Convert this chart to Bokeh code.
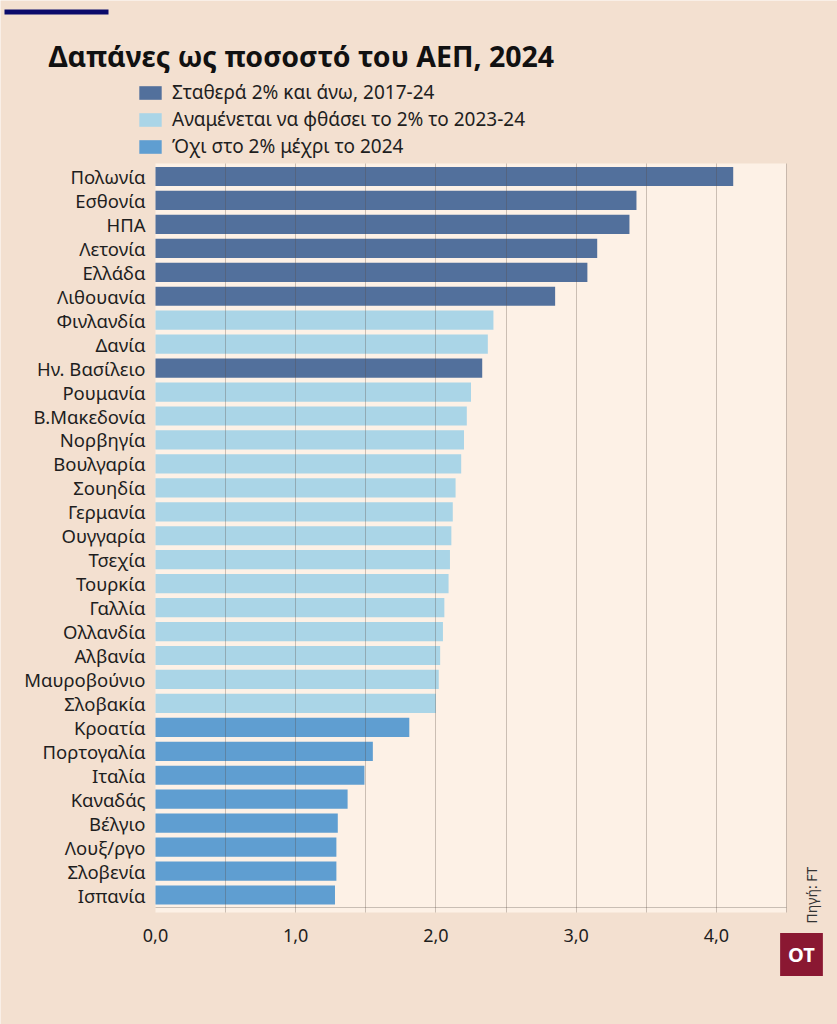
import math
from bokeh.plotting import figure
from bokeh.models import (ColumnDataSource, Range1d, FixedTicker, LinearAxis,
                          Grid, BoxAnnotation, Label)
from bokeh.core.properties import value
from bokeh.transform import factor_cmap
from bokeh.embed import file_html
from bokeh.resources import INLINE

# ---------------- data ----------------
countries = ["Πολωνία", "Εσθονία", "ΗΠΑ", "Λετονία", "Ελλάδα", "Λιθουανία",
             "Φινλανδία", "Δανία", "Ην. Βασίλειο", "Ρουμανία", "Β.Μακεδονία",
             "Νορβηγία", "Βουλγαρία", "Σουηδία", "Γερμανία", "Ουγγαρία",
             "Τσεχία", "Τουρκία", "Γαλλία", "Ολλανδία", "Αλβανία",
             "Μαυροβούνιο", "Σλοβακία", "Κροατία", "Πορτογαλία", "Ιταλία",
             "Καναδάς", "Βέλγιο", "Λουξ/ργο", "Σλοβενία", "Ισπανία"]
values = [4.12, 3.43, 3.38, 3.15, 3.08, 2.85, 2.41, 2.37, 2.33, 2.25, 2.22,
          2.20, 2.18, 2.14, 2.12, 2.11, 2.10, 2.09, 2.06, 2.05, 2.03, 2.02,
          2.00, 1.81, 1.55, 1.49, 1.37, 1.30, 1.29, 1.29, 1.28]
group_names = ["Σταθερά 2% και άνω, 2017-24",
               "Αναμένεται να φθάσει το 2% το 2023-24",
               "Όχι στο 2% μέχρι το 2024"]
group_idx = [0, 0, 0, 0, 0, 0, 1, 1, 0, 1, 1, 1, 1, 1, 1, 1, 1, 1, 1, 1, 1,
             1, 1, 2, 2, 2, 2, 2, 2, 2, 2]
group_colors = ["#52709c", "#aad5e7", "#5f9ed1"]
tick_values = [0, 1, 2, 3, 4]
tick_labels = ["0,0", "1,0", "2,0", "3,0", "4,0"]
grid_values = [0.5, 1.0, 1.5, 2.0, 2.5, 3.0, 3.5, 4.0, 4.5]

title_text = "Δαπάνες ως ποσοστό του ΑΕΠ, 2024"
source_text = "Πηγή: FT"
logo_text = "OT"

# ---------------- layout constants (page pixels) ----------------
FONT = "Noto Sans"
BG = "#f3e0d0"
PANEL = "#fdf1e6"
INK = "#1e1e1e"
W, H = 837, 1024
PANEL_L, PANEL_R, PANEL_T, PANEL_B = 155, 786, 163, 912
AXIS_Y = 907
X_MAX = 4.5
K = (PANEL_R - PANEL_L) / X_MAX          # px per unit of GDP share
ROW_PX = 23.95
TOP_ROW_PX = 176

n = len(countries)
pos = [n - 1 - i for i in range(n)]      # row positions, first country on top


def y_of(py):
    """page pixel row -> row coordinate"""
    return (n - 1) - (py - TOP_ROW_PX) / ROW_PX


src = ColumnDataSource(dict(
    pos=pos,
    country=countries,
    value=values,
    group=[group_names[i] for i in group_idx],
))

p = figure(width=W, height=H,
           x_range=Range1d(-PANEL_L / K, X_MAX + (W - PANEL_R) / K),
           y_range=Range1d(y_of(H), y_of(0)),
           x_axis_type=None, y_axis_type=None,
           output_backend="svg", toolbar_location=None, min_border=0)
p.extra_x_ranges = {"px": Range1d(0, W)}
p.extra_y_ranges = {"px": Range1d(H, 0)}

p.background_fill_color = BG
p.border_fill_color = BG
p.outline_line_color = None

# chart panel
p.add_layout(BoxAnnotation(left=PANEL_L, right=PANEL_R, top=PANEL_T,
                           bottom=PANEL_B, x_range_name="px",
                           y_range_name="px", fill_color=PANEL, fill_alpha=1,
                           line_color=None, level="underlay"))

# bars
p.hbar(y="pos", right="value", left=0, height=0.8, source=src,
       fill_color=factor_cmap("group", palette=group_colors, factors=group_names),
       line_color=None, legend_field="group")

# vertical grid lines (drawn over the bars, as in the original)
grid_kw = dict(grid_line_color="#5a4a40", grid_line_alpha=0.3)
if "cross_bounds" in Grid.properties():
    p.add_layout(Grid(dimension=0, ticker=FixedTicker(ticks=grid_values),
                      cross_bounds=(y_of(PANEL_B), y_of(PANEL_T)),
                      level="annotation", **grid_kw))
else:
    p.segment(x0=grid_values, x1=grid_values,
              y0=[y_of(PANEL_B)] * len(grid_values),
              y1=[y_of(PANEL_T)] * len(grid_values),
              line_color="#5a4a40", line_alpha=0.3, level="annotation")

# category axis
yaxis = LinearAxis(fixed_location=0, ticker=FixedTicker(ticks=pos),
                   major_label_overrides=dict(zip(pos, countries)),
                   axis_line_color=None, major_tick_line_color=None,
                   minor_tick_line_color=None, major_label_standoff=4,
                   major_label_text_font=FONT,
                   major_label_text_font_size="18.5px",
                   major_label_text_color=INK)
p.add_layout(yaxis, "left")

# value axis
xaxis = LinearAxis(fixed_location=y_of(AXIS_Y), bounds=(0, X_MAX),
                   ticker=FixedTicker(ticks=tick_values),
                   major_label_overrides=dict(zip(tick_values, tick_labels)),
                   axis_line_color="#c9beb4", major_tick_line_color=None,
                   minor_tick_line_color=None, major_label_standoff=15,
                   major_label_text_font=FONT,
                   major_label_text_font_size="18px",
                   major_label_text_color=INK)
p.add_layout(xaxis, "below")

# legend
lg = p.legend[0]
lg.location = (136, H - 159)
lg.padding = 0
lg.margin = 0
lg.border_line_color = None
lg.background_fill_alpha = 0
lg.glyph_width = 28
lg.glyph_height = 17
lg.label_height = 17
lg.spacing = 1
lg.label_standoff = 8
lg.label_text_font = FONT
lg.label_text_font_size = "19px"
lg.label_text_color = INK
lg.label_text_baseline = "middle"

# navy rule at the top
p.quad(left=[4], right=[108], top=[9], bottom=[14], x_range_name="px",
       y_range_name="px", fill_color="#0b0b6b", line_color=None)

# title
p.text(x=[48], y=[55], text=[title_text], x_range_name="px",
       y_range_name="px", text_font=value(FONT), text_font_style="bold",
       text_font_size="28.5px", text_color="#111111",
       text_baseline="alphabetic", text_align="left")

# source (rotated)
p.add_layout(Label(x=811, y=923, x_range_name="px", y_range_name="px",
                   text=source_text, angle=math.pi / 2, text_font=FONT,
                   text_font_size="14px", text_color="#333333",
                   text_align="left", text_baseline="alphabetic"))

# OT logo
p.add_layout(Label(x=801, y=954, x_range_name="px", y_range_name="px",
                   text=logo_text, text_font=FONT, text_font_style="bold",
                   text_font_size="20px", text_color="#ffffff",
                   text_align="center", text_baseline="middle",
                   background_fill_color="#8a1832", padding=8))

html = file_html(p, INLINE)
html = html.replace("<body>", '<body style="margin:0;background:%s">' % BG, 1)
open("out.html", "w").write(html)
